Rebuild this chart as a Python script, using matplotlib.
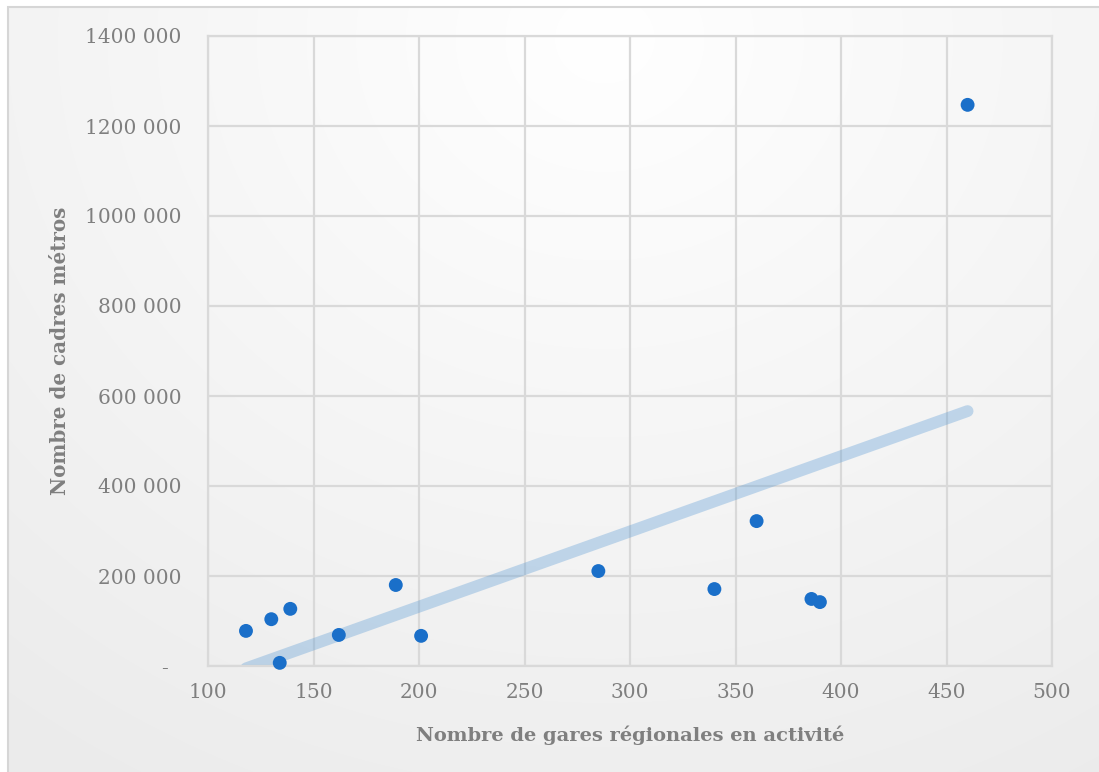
import numpy as np
import matplotlib
matplotlib.use("Agg")
import matplotlib.pyplot as plt
from matplotlib.ticker import FuncFormatter, MultipleLocator
from matplotlib.patches import Rectangle

# Number of active regional stations vs. number of "cadres métros"
gares = [118, 130, 139, 134, 162, 189, 201, 285, 340, 360, 386, 390, 460]
cadres = [78000, 104000, 127000, 7000, 69000, 180000, 67000,
          211000, 171000, 322000, 149000, 142000, 1247000]

x_label = "Nombre de gares régionales en activité"
y_label = "Nombre de cadres métros"

FONT = "DejaVu Serif"
GREY = "#7f7f7f"

W, H, DPI = 1099, 772, 100
fig = plt.figure(figsize=(W / DPI, H / DPI), dpi=DPI)
fig.patch.set_facecolor("white")

# soft radial background of the chart area
bg = fig.add_axes([0, 0, 1, 1], zorder=-10)
bg.set_axis_off()
yy, xx = np.mgrid[0:H, 0:W]
r = np.sqrt(((xx - W * 0.55) / (W * 0.75)) ** 2 + ((yy - H * 0.05) / (H * 0.95)) ** 2)
shade = 1.0 - 0.065 * np.clip(r, 0, 1.2)
shade[:7, :] = 1.0
shade[:, :8] = 1.0
img = np.dstack([shade, shade, shade])
bg.imshow(img, extent=[0, W, 0, H], origin="upper", aspect="auto")
bg.set_xlim(0, W)
bg.set_ylim(0, H)
bg.add_patch(Rectangle((8, -20), W + 20, H - 7 + 20, fill=False,
                       edgecolor="#d6d6d6", linewidth=1.5))

ax = fig.add_axes([208 / W, 1 - 666 / H, (1052 - 208) / W, (666 - 36) / H])
ax.patch.set_alpha(0)

ax.set_xlim(100, 500)
ax.set_ylim(0, 1400000)
ax.xaxis.set_major_locator(MultipleLocator(50))
ax.yaxis.set_major_locator(MultipleLocator(200000))


def fmt_y(v, pos):
    if abs(v) < 1:
        return "-  "
    n = int(round(v))
    return f"{n // 1000} {n % 1000:03d}"


ax.yaxis.set_major_formatter(FuncFormatter(fmt_y))

ax.grid(True, color="#d9d9d9", linewidth=1.6, zorder=0)
for s in ax.spines.values():
    s.set_color("#d9d9d9")
    s.set_linewidth(1.6)
ax.tick_params(length=0, labelsize=14.5, labelcolor=GREY)
ax.tick_params(axis="y", pad=19)
ax.tick_params(axis="x", pad=12)
for lab in ax.get_xticklabels() + ax.get_yticklabels():
    lab.set_fontfamily(FONT)

# linear trendline fitted to the points
slope, intercept = np.polyfit(gares, cadres, 1)
xt = np.array([min(gares), max(gares)])
ax.plot(xt, slope * xt + intercept, color="#5b9bd5", alpha=0.35,
        linewidth=8.5, solid_capstyle="round", zorder=2)

ax.scatter(gares, cadres, s=100, color="#1a6fc9", edgecolors="none", zorder=3,
           clip_on=False)

ax.set_xlabel(x_label, fontsize=14, fontweight="bold", color=GREY,
              family=FONT, labelpad=17)
ax.set_ylabel(y_label, fontsize=14.3, fontweight="bold", color=GREY,
              family=FONT, labelpad=11)

fig.savefig("out.png", dpi=DPI)
